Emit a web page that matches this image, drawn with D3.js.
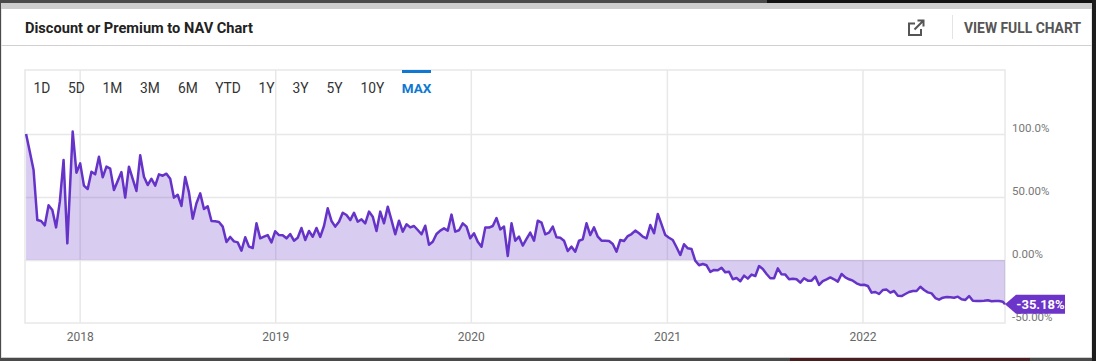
<!DOCTYPE html>
<html>
<head>
<meta charset="utf-8">
<script src="https://cdnjs.cloudflare.com/ajax/libs/d3/7.8.5/d3.min.js"></script>
<style>
html, body { margin: 0; padding: 0; background: #4a4a4a; overflow: hidden; }
text { font-family: Roboto, sans-serif; }
</style>
</head>
<body>
<svg id="chart" width="1096" height="361"></svg>
<script>
// weekly premium / discount readings, % of NAV
const firstDate = new Date(2017, 8, 23)
const lastDate = new Date(2022, 8, 24)
const gapIndex = 12 // one 10 day step in Dec 2017, everything after it sits 3 days later
const premium = [
  100.0, 86.0, 71.4, 31.7, 31.0, 27.5, 43.4, 39.7, 25.9, 46.3,
  79.4, 13.2, 101.9, 69.3, 76.7, 59.0, 56.4, 70.1, 68.0, 82.0,
  65.6, 74.1, 72.5, 55.6, 62.7, 69.8, 49.5, 74.1, 64.3, 54.8,
  83.1, 66.1, 59.5, 64.5, 59.0, 68.0, 66.9, 68.5, 64.5, 49.5,
  51.8, 42.9, 65.9, 53.7, 32.8, 45.0, 52.9, 40.5, 42.6, 31.0,
  30.7, 30.2, 26.5, 14.3, 18.3, 14.8, 14.0, 7.4, 18.0, 10.6,
  9.5, 29.1, 17.2, 18.5, 19.8, 14.0, 22.8, 19.8, 19.6, 17.2,
  20.6, 15.3, 17.7, 25.4, 15.9, 23.0, 18.5, 25.4, 18.3, 27.0,
  41.0, 31.0, 26.5, 30.4, 37.5, 35.7, 31.7, 37.5, 30.4, 32.3,
  29.1, 38.4, 34.4, 23.0, 38.4, 29.1, 42.3, 31.7, 20.4, 31.2,
  22.5, 28.3, 25.9, 27.0, 23.8, 20.4, 27.2, 12.1, 14.5, 20.6,
  23.3, 25.1, 23.3, 36.0, 22.5, 23.6, 29.1, 26.5, 17.2, 21.2,
  14.5, 10.6, 25.7, 25.7, 27.0, 33.3, 24.3, 26.5, 3.2, 29.1,
  15.3, 18.5, 11.4, 16.7, 21.7, 15.3, 31.2, 29.6, 20.4, 21.7,
  26.5, 18.0, 17.7, 15.3, 7.1, 10.6, 6.6, 15.3, 16.4, 29.1,
  19.8, 25.9, 18.5, 15.3, 15.3, 15.1, 12.7, 6.6, 15.9, 15.1,
  19.0, 20.6, 23.3, 21.2, 18.5, 17.2, 27.8, 21.2, 36.5, 28.3,
  19.8, 17.7, 15.9, 10.1, 4.0, 12.5, 9.3, 8.7, -0.6, -4.2,
  -3.2, -4.2, -9.5, -7.9, -8.2, -6.1, -9.8, -9.3, -15.3, -14.3,
  -16.9, -12.4, -14.8, -11.6, -12.7, -4.8, -7.1, -11.1, -14.5, -14.5,
  -6.6, -11.4, -11.6, -15.3, -14.8, -15.3, -18.0, -14.5, -16.4, -16.4,
  -13.2, -19.8, -16.7, -15.3, -13.8, -15.3, -17.2, -11.1, -13.8, -15.3,
  -16.4, -18.5, -19.8, -19.6, -20.6, -25.9, -25.4, -27.0, -23.8, -23.5,
  -25.9, -24.6, -28.3, -28.6, -27.0, -25.4, -24.6, -24.6, -21.2, -23.8,
  -25.7, -26.5, -30.2, -31.5, -29.9, -29.4, -29.6, -29.9, -29.1, -31.2,
  -31.7, -28.6, -32.3, -32.5, -32.5, -32.3, -32.0, -32.8, -32.5, -32.5,
  -33.1, -35.18
]
const yTicks = [100, 50, 0, -50]
const yTickLabels = ["100.0%", "50.00%", "0.00%", "-50.00%"]
const rangeButtons = ["1D", "5D", "1M", "3M", "6M", "YTD", "1Y", "3Y", "5Y", "10Y", "MAX"]
const buttonCentres = [42, 76.5, 112.5, 150, 188, 228, 266.5, 300.5, 334.5, 372.5, 416.5]

const purple = "#6533c7"
const gridColor = "#e8e8e8"

const dates = premium.map(function (v, i) {
  if (i == premium.length - 1) return lastDate
  return d3.timeDay.offset(firstDate, 7 * i + (i >= gapIndex ? 3 : 0))
})
const points = premium.map(function (v, i) { return { date: dates[i], value: v } })

var plot = { left: 25, right: 1005, top: 70, bottom: 323 }

var x = d3.scaleTime()
  .domain([d3.timeDay.offset(firstDate, -2), lastDate])
  .range([plot.left, plot.right])

var y = d3.scaleLinear()
  .domain([-50, 150.8])
  .range([plot.bottom, plot.top])

var svg = d3.select("#chart")

// -----------------------------------------------------------------------------
// page behind the card, then the card
svg.append("rect").attr("x", 767).attr("y", 0).attr("width", 329).attr("height", 3).attr("fill", "#111")
svg.append("rect").attr("x", 1092).attr("y", 0).attr("width", 4).attr("height", 361).attr("fill", "#1c1c1c")
svg.append("rect").attr("x", 790).attr("y", 358).attr("width", 240).attr("height", 3).attr("fill", "#4a1e1e")
svg.append("rect").attr("x", 1).attr("y", 3).attr("width", 1091).attr("height", 355).attr("fill", "#cdcdcd")
svg.append("rect").attr("x", 1.5).attr("y", 9).attr("width", 1090).attr("height", 348).attr("fill", "#fff")

svg.append("text").attr("x", 25).attr("y", 32.5)
  .attr("font-size", 15).attr("font-weight", 700).attr("fill", "#222")
  .attr("textLength", 228).attr("lengthAdjust", "spacingAndGlyphs")
  .text("Discount or Premium to NAV Chart")

svg.append("line").attr("x1", 1.5).attr("x2", 1091.5).attr("y1", 45.5).attr("y2", 45.5)
  .attr("stroke", "#d0d0d0").attr("stroke-width", 1)
svg.append("line").attr("x1", 952.5).attr("x2", 952.5).attr("y1", 15).attr("y2", 39)
  .attr("stroke", "#e4e4e4")

svg.append("path")
  .attr("d", "M915 23.5H909V35H921V29 M914.5 29.5L923 21 M917.5 20.5H923.5V26.5")
  .attr("fill", "none").attr("stroke", "#555").attr("stroke-width", 2)

svg.append("text").attr("x", 964).attr("y", 33)
  .attr("font-size", 14.5).attr("font-weight", 700).attr("fill", "#555")
  .attr("textLength", 117).attr("lengthAdjust", "spacingAndGlyphs")
  .text("VIEW FULL CHART")

// -----------------------------------------------------------------------------
// grid
svg.append("g")
  .attr("transform", "translate(0," + plot.bottom + ")")
  .call(d3.axisBottom(x).ticks(d3.timeYear.every(1)).tickSize(plot.top - plot.bottom).tickFormat(""))
  .call(function (g) { g.select(".domain").remove() })
  .selectAll("line").attr("stroke", gridColor).attr("stroke-width", 1.5)

svg.append("g")
  .attr("transform", "translate(" + plot.left + ",0)")
  .call(d3.axisRight(y).tickValues(yTicks.slice(0, 3)).tickSize(plot.right - plot.left).tickFormat(""))
  .call(function (g) { g.select(".domain").remove() })
  .selectAll("line").attr("stroke", gridColor).attr("stroke-width", 1.5)

svg.append("rect")
  .attr("x", plot.left).attr("y", plot.top)
  .attr("width", plot.right - plot.left).attr("height", plot.bottom - plot.top)
  .attr("fill", "none").attr("stroke", gridColor).attr("stroke-width", 1.5)

// -----------------------------------------------------------------------------
// series
var area = d3.area()
  .x(function (d) { return x(d.date) })
  .y0(y(0))
  .y1(function (d) { return y(d.value) })

var line = d3.line()
  .x(function (d) { return x(d.date) })
  .y(function (d) { return y(d.value) })

svg.append("path").datum(points)
  .attr("d", area)
  .attr("fill", purple).attr("fill-opacity", 0.25)

svg.append("path").datum(points)
  .attr("d", line)
  .attr("fill", "none").attr("stroke", purple).attr("stroke-width", 2.5)
  .attr("stroke-linejoin", "round")

// -----------------------------------------------------------------------------
// axes
var yAxis = svg.append("g")
  .attr("transform", "translate(" + (plot.right + 7) + ",0)")
  .call(d3.axisRight(y).tickValues(yTicks).tickSize(0).tickPadding(0)
    .tickFormat(function (d, i) { return yTickLabels[i] }))
yAxis.select(".domain").remove()
yAxis.selectAll("text")
  .attr("dy", -3)
  .style("font-family", "Roboto, sans-serif").style("font-size", "11.5px")
  .attr("fill", "#777")

var xAxis = svg.append("g")
  .attr("transform", "translate(0," + plot.bottom + ")")
  .call(d3.axisBottom(x).ticks(d3.timeYear.every(1)).tickSize(0).tickPadding(9)
    .tickFormat(d3.timeFormat("%Y")))
xAxis.select(".domain").remove()
xAxis.selectAll("text")
  .style("font-family", "Roboto, sans-serif").style("font-size", "12px")
  .attr("fill", "#666")

// -----------------------------------------------------------------------------
// range buttons
svg.selectAll(".range-button")
  .data(rangeButtons)
  .enter().append("text")
  .attr("class", "range-button")
  .attr("x", function (d, i) { return buttonCentres[i] })
  .attr("y", 93)
  .attr("text-anchor", "middle")
  .attr("font-size", function (d) { return d == "MAX" ? 13.5 : 13.8 })
  .attr("font-weight", function (d) { return d == "MAX" ? 700 : 400 })
  .attr("fill", function (d) { return d == "MAX" ? "#0e78d2" : "#333" })
  .text(function (d) { return d })

svg.append("rect").attr("x", 402).attr("y", 70).attr("width", 29).attr("height", 3).attr("fill", "#0e78d2")

// -----------------------------------------------------------------------------
// last value tag
var lastPoint = points[points.length - 1]
var tagX = x(lastPoint.date), tagY = y(lastPoint.value)

svg.append("path")
  .attr("d", "M" + tagX + " " + tagY + "l11 -9.5h49v19h-49z")
  .attr("fill", "#6d34c9")

svg.append("text")
  .attr("x", tagX + 35.5).attr("y", tagY + 5)
  .attr("text-anchor", "middle")
  .attr("font-size", 13).attr("font-weight", 700).attr("fill", "#fff")
  .text(lastPoint.value.toFixed(2) + "%")
</script>
</body>
</html>
